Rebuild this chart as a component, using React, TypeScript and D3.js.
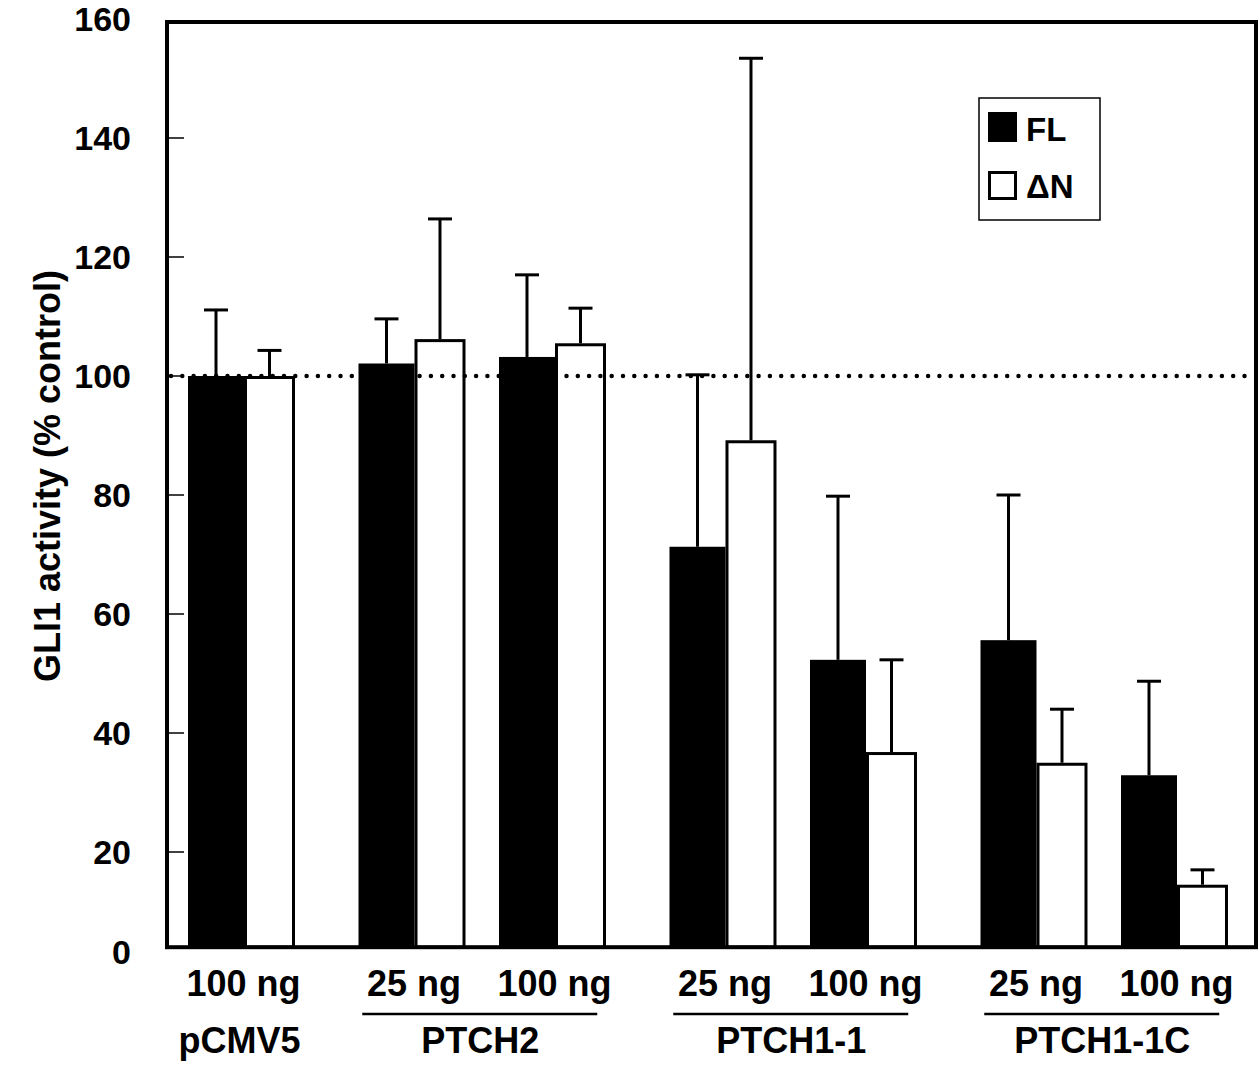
import * as d3 from "d3";

// conditions (one pair of bars each)
const groups = ["pCMV5", "PTCH2", "PTCH1-1", "PTCH1-1C"];
const doses = ["100 ng", "25 ng", "100 ng", "25 ng", "100 ng", "25 ng", "100 ng"];
const doseGroup = [0, 1, 1, 2, 2, 3, 3];

// GLI1 activity, % control, and upward error
const flMean = [100, 102.1, 103.2, 71.3, 52.3, 55.6, 32.9];
const flErr = [11.1, 7.5, 13.8, 28.9, 27.5, 24.4, 15.8];
const dnMean = [100, 106.2, 105.5, 89.2, 36.8, 35, 14.5];
const dnErr = [4.3, 20.2, 5.9, 64.2, 15.5, 9, 2.5];

const yTicks = [0, 20, 40, 60, 80, 100, 120, 140, 160];
const seriesNames = ["FL", "ΔN"];

const W = 1260;
const H = 1066;
const font = "'Liberation Sans', Arial, Helvetica, sans-serif";

// axis frame cuts off a little above zero in the original figure
const axisFloor = 4;
const y = d3.scaleLinear().domain([0, 160]).range([971, 19]);

// between-group gap expressed in pair units
const groupGap = 0.2135;
const x = d3.scaleLinear().domain([0, 1]).range([241.5, 382]);
const pos = doses.map((_, i) => x(i + doseGroup[i] * groupGap));

const half = 53.5; // half width of a pair
const split = 2.5; // FL bar is a bit wider than the ΔN bar
const frame = { left: 167, right: 1256, top: 22, bottom: y(axisFloor) };

function App() {
  const groupCenters = groups.map((_, g) => d3.mean(pos.filter((_, i) => doseGroup[i] === g)) as number);
  const groupSize = groups.map((_, g) => doseGroup.filter((d) => d === g).length);

  const errBar = (cx: number, mean: number, err: number, key: string) => (
    <g key={key} stroke="#000" strokeWidth={3}>
      <line x1={cx} x2={cx} y1={y(mean)} y2={y(mean + err)} />
      <line x1={cx - 12} x2={cx + 12} y1={y(mean + err)} y2={y(mean + err)} />
    </g>
  );

  return (
    <svg
      width={W}
      height={H}
      style={{ position: "absolute", left: 0, top: 0, background: "#fff" }}
      fontFamily={font}
      fontWeight="bold"
    >
      {/* y axis title */}
      <text
        transform="translate(47,476) rotate(-90)"
        textAnchor="middle"
        dy="0.35em"
        fontSize={36}
      >
        GLI1 activity (% control)
      </text>

      {/* y tick labels and ticks */}
      {yTicks.map((t) => (
        <text key={t} x={131} y={y(Math.max(t, axisFloor)) + (t === 0 ? 5 : 0)} dy="0.35em" textAnchor="end" fontSize={34}>
          {t}
        </text>
      ))}
      {yTicks
        .filter((t) => t > 0 && t < 160)
        .map((t) => (
          <line key={t} x1={frame.left} x2={frame.left + 17} y1={y(t)} y2={y(t)} stroke="#000" strokeWidth={1.5} />
        ))}

      {/* bars */}
      {pos.map((cx, i) => (
        <g key={i}>
          <rect
            x={cx - half}
            y={y(flMean[i])}
            width={half + split}
            height={frame.bottom - y(flMean[i])}
            fill="#000"
          />
          <rect
            x={cx + split + 1.5}
            y={y(dnMean[i]) + 1.5}
            width={half - split - 3}
            height={frame.bottom - y(dnMean[i]) - 1.5}
            fill="#fff"
            stroke="#000"
            strokeWidth={3}
          />
        </g>
      ))}

      {/* error bars */}
      {pos.map((cx, i) => errBar(cx + (split - half) / 2, flMean[i], flErr[i], `fl${i}`))}
      {pos.map((cx, i) => errBar(cx + (split + half) / 2, dnMean[i], dnErr[i], `dn${i}`))}

      {/* 100% reference line */}
      <line
        x1={frame.left + 4}
        x2={frame.right - 4}
        y1={y(100)}
        y2={y(100)}
        stroke="#000"
        strokeWidth={4.5}
        strokeLinecap="round"
        strokeDasharray="0 11.3"
      />

      {/* frame */}
      <rect
        x={frame.left}
        y={frame.top}
        width={frame.right - frame.left}
        height={frame.bottom - frame.top}
        fill="none"
        stroke="#000"
        strokeWidth={4}
      />

      {/* legend */}
      <g>
        <rect x={979} y={98} width={121} height={122} fill="#fff" stroke="#000" strokeWidth={1.5} />
        <rect x={988} y={112} width={29} height={30} fill="#000" />
        <rect x={989.5} y={172.5} width={26} height={26} fill="#fff" stroke="#000" strokeWidth={3} />
        <text x={1026} y={141} fontSize={33}>
          {seriesNames[0]}
        </text>
        <text x={1026} y={198} fontSize={33}>
          {seriesNames[1]}
        </text>
      </g>

      {/* x labels */}
      {pos.map((cx, i) => (
        <text key={i} x={cx + 2} y={996} textAnchor="middle" fontSize={36}>
          {doses[i]}
        </text>
      ))}
      {groups.map((g, gi) => (
        <g key={g}>
          {groupSize[gi] > 1 && (
            <line
              x1={groupCenters[gi] - 120}
              x2={groupCenters[gi] + 115}
              y1={1014}
              y2={1014}
              stroke="#000"
              strokeWidth={2.5}
            />
          )}
          <text x={groupCenters[gi] - 2} y={1053} textAnchor="middle" fontSize={36}>
            {g}
          </text>
        </g>
      ))}
    </svg>
  );
}

export default App;
